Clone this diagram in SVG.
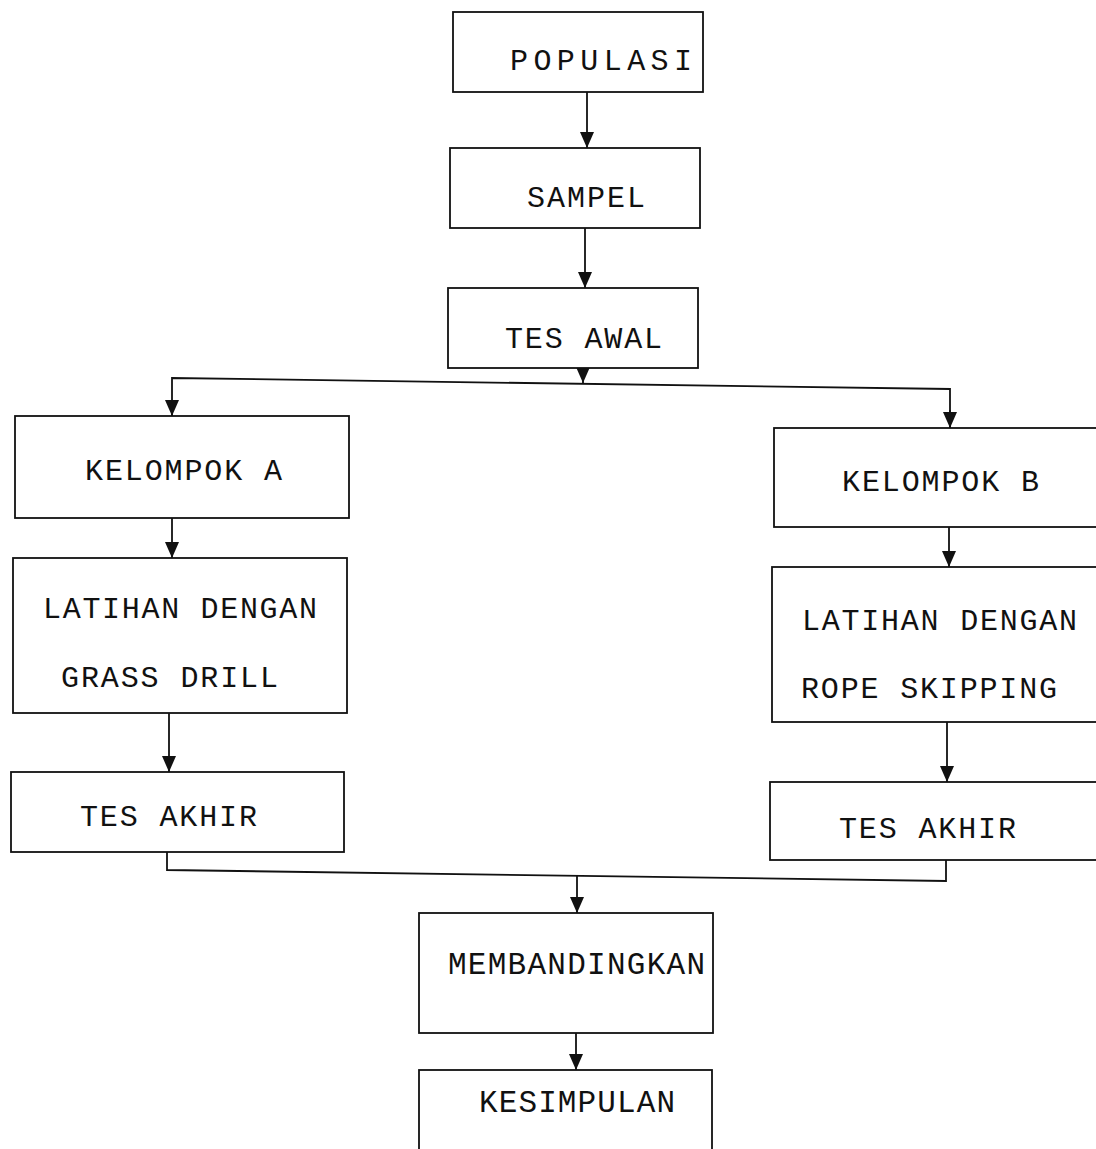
<svg xmlns="http://www.w3.org/2000/svg" width="1096" height="1149" viewBox="0 0 1096 1149">
<style>
.box{fill:#fff;stroke:#111;stroke-width:1.8}
.t{font-family:"Liberation Mono","Courier New",monospace;font-size:30px;fill:#111}
.c{font-family:"Liberation Mono","Courier New",monospace;font-size:31px;fill:#111}
.ln{fill:none;stroke:#111;stroke-width:1.8}
</style>
<defs>
<marker id="dn" markerUnits="userSpaceOnUse" markerWidth="14" markerHeight="16" refX="7" refY="16" viewBox="0 0 14 16" orient="0">
<path d="M0,0 L14,0 L7,16 Z" fill="#111"/>
</marker>
</defs>
<rect width="1096" height="1149" fill="#fff"/>
<g id="connectors">
<line class="ln" x1="587" y1="92" x2="587" y2="148" marker-end="url(#dn)"/>
<line class="ln" x1="585" y1="228" x2="585" y2="288" marker-end="url(#dn)"/>
<line class="ln" x1="583" y1="368" x2="583" y2="383" marker-end="url(#dn)"/>
<polyline class="ln" points="172,416 172,378 950,389 950,428"/>
<line class="ln" x1="172" y1="400" x2="172" y2="416" marker-end="url(#dn)"/>
<line class="ln" x1="950" y1="410" x2="950" y2="428" marker-end="url(#dn)"/>
<line class="ln" x1="172" y1="518" x2="172" y2="558" marker-end="url(#dn)"/>
<line class="ln" x1="949" y1="527" x2="949" y2="567" marker-end="url(#dn)"/>
<line class="ln" x1="169" y1="713" x2="169" y2="772" marker-end="url(#dn)"/>
<line class="ln" x1="947" y1="722" x2="947" y2="782" marker-end="url(#dn)"/>
<polyline class="ln" points="167,852 167,870 946,881 946,860"/>
<line class="ln" x1="577" y1="876" x2="577" y2="913" marker-end="url(#dn)"/>
<line class="ln" x1="576" y1="1033" x2="576" y2="1070" marker-end="url(#dn)"/>
</g>
<g id="populasi"><rect class="box" x="453" y="12" width="250" height="80"/><text class="t" x="510" y="70" textLength="182">POPULASI</text></g>
<g id="sampel"><rect class="box" x="450" y="148" width="250" height="80"/><text class="t" x="527" y="207" textLength="118">SAMPEL</text></g>
<g id="tes-awal"><rect class="box" x="448" y="288" width="250" height="80"/><text class="t" x="505" y="348" textLength="157">TES AWAL</text></g>
<g id="kelompok-a"><rect class="box" x="15" y="416" width="334" height="102"/><text class="t" x="85" y="480" textLength="197">KELOMPOK A</text></g>
<g id="latihan-a"><rect class="box" x="13" y="558" width="334" height="155"/><text class="t" x="43" y="618" textLength="274">LATIHAN DENGAN</text><text class="t" x="61" y="687" textLength="217">GRASS DRILL</text></g>
<g id="tes-akhir-a"><rect class="box" x="11" y="772" width="333" height="80"/><text class="t" x="80" y="826" textLength="177">TES AKHIR</text></g>
<g id="kelompok-b"><rect class="box" x="774" y="428" width="340" height="99"/><text class="t" x="842" y="491" textLength="197">KELOMPOK B</text></g>
<g id="latihan-b"><rect class="box" x="772" y="567" width="340" height="155"/><text class="t" x="802" y="630" textLength="275">LATIHAN DENGAN</text><text class="t" x="801" y="698" textLength="256">ROPE SKIPPING</text></g>
<g id="tes-akhir-b"><rect class="box" x="770" y="782" width="340" height="78"/><text class="t" x="839" y="838" textLength="177">TES AKHIR</text></g>
<g id="membandingkan"><rect class="box" x="419" y="913" width="294" height="120"/><text class="c" x="448" y="974" textLength="257">MEMBANDINGKAN</text></g>
<g id="kesimpulan"><rect class="box" x="419" y="1070" width="293" height="100"/><text class="c" x="479" y="1112" textLength="196">KESIMPULAN</text></g>
</svg>
